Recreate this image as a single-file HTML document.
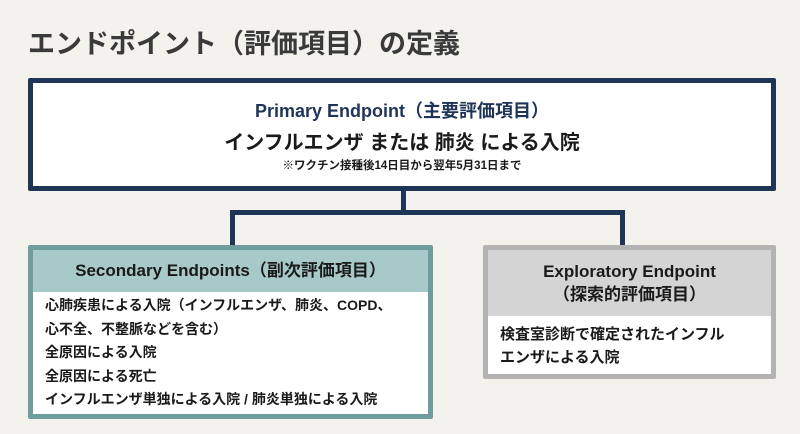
<!DOCTYPE html>
<html><head><meta charset="utf-8"><style>
*{margin:0;padding:0;box-sizing:border-box}
body{width:800px;height:434px;background:#f3f2ed;font-family:"Liberation Sans","Noto Sans CJK JP",sans-serif;position:relative;overflow:hidden;color:#1a1a1a}
.abs{position:absolute}
.t{left:28px;top:22px;font-size:27px;font-weight:bold;color:#3a3a3a;letter-spacing:0px}
.pb{left:28px;top:78px;width:748px;height:113px;border:5px solid #1f3558;background:#fff;text-align:center;border-radius:2px}
.line{background:#1f3558}
.sb{left:28px;top:245px;width:405px;height:174px;border:5px solid #6f9c9c;background:#fff;border-radius:2px}
.sh{background:#a8c9ca;height:42px;text-align:center;font-size:17px;font-weight:bold;line-height:42px}
.items{padding:2px 12px;font-size:14px;font-weight:bold;line-height:23.5px}
.eb{left:483px;top:245px;width:293px;height:134px;border:5px solid #b3b3b3;background:#fff;border-radius:2px}
.eh{background:#d4d4d4;height:66px;text-align:center;font-size:17px;font-weight:bold;line-height:23px;padding-top:10px}
.ei{padding:7px 12px;font-size:15px;font-weight:bold;line-height:23px}
</style></head><body>
<div class="abs t">エンドポイント（評価項目）の定義</div>
<div class="abs pb">
<div style="font-size:18px;font-weight:bold;color:#1f3558;margin-top:14px">Primary Endpoint（主要評価項目）</div>
<div style="font-size:20px;font-weight:bold;margin-top:3px">インフルエンザ または 肺炎 による入院</div>
<div style="font-size:11.5px;font-weight:bold;margin-top:2px">※ワクチン接種後14日目から翌年5月31日まで</div>
</div>
<div class="abs line" style="left:401px;top:190px;width:5px;height:23px"></div>
<div class="abs line" style="left:230px;top:210px;width:395px;height:5px"></div>
<div class="abs line" style="left:230px;top:210px;width:5px;height:36px"></div>
<div class="abs line" style="left:620px;top:210px;width:5px;height:36px"></div>
<div class="abs sb">
<div class="sh">Secondary Endpoints（副次評価項目）</div>
<div class="items">心肺疾患による入院（インフルエンザ、肺炎、COPD、<br>心不全、不整脈などを含む）<br>全原因による入院<br>全原因による死亡<br>インフルエンザ単独による入院 / 肺炎単独による入院</div>
</div>
<div class="abs eb">
<div class="eh">Exploratory Endpoint<br>（探索的評価項目）</div>
<div class="ei">検査室診断で確定されたインフル<br>エンザによる入院</div>
</div>
</body></html>
